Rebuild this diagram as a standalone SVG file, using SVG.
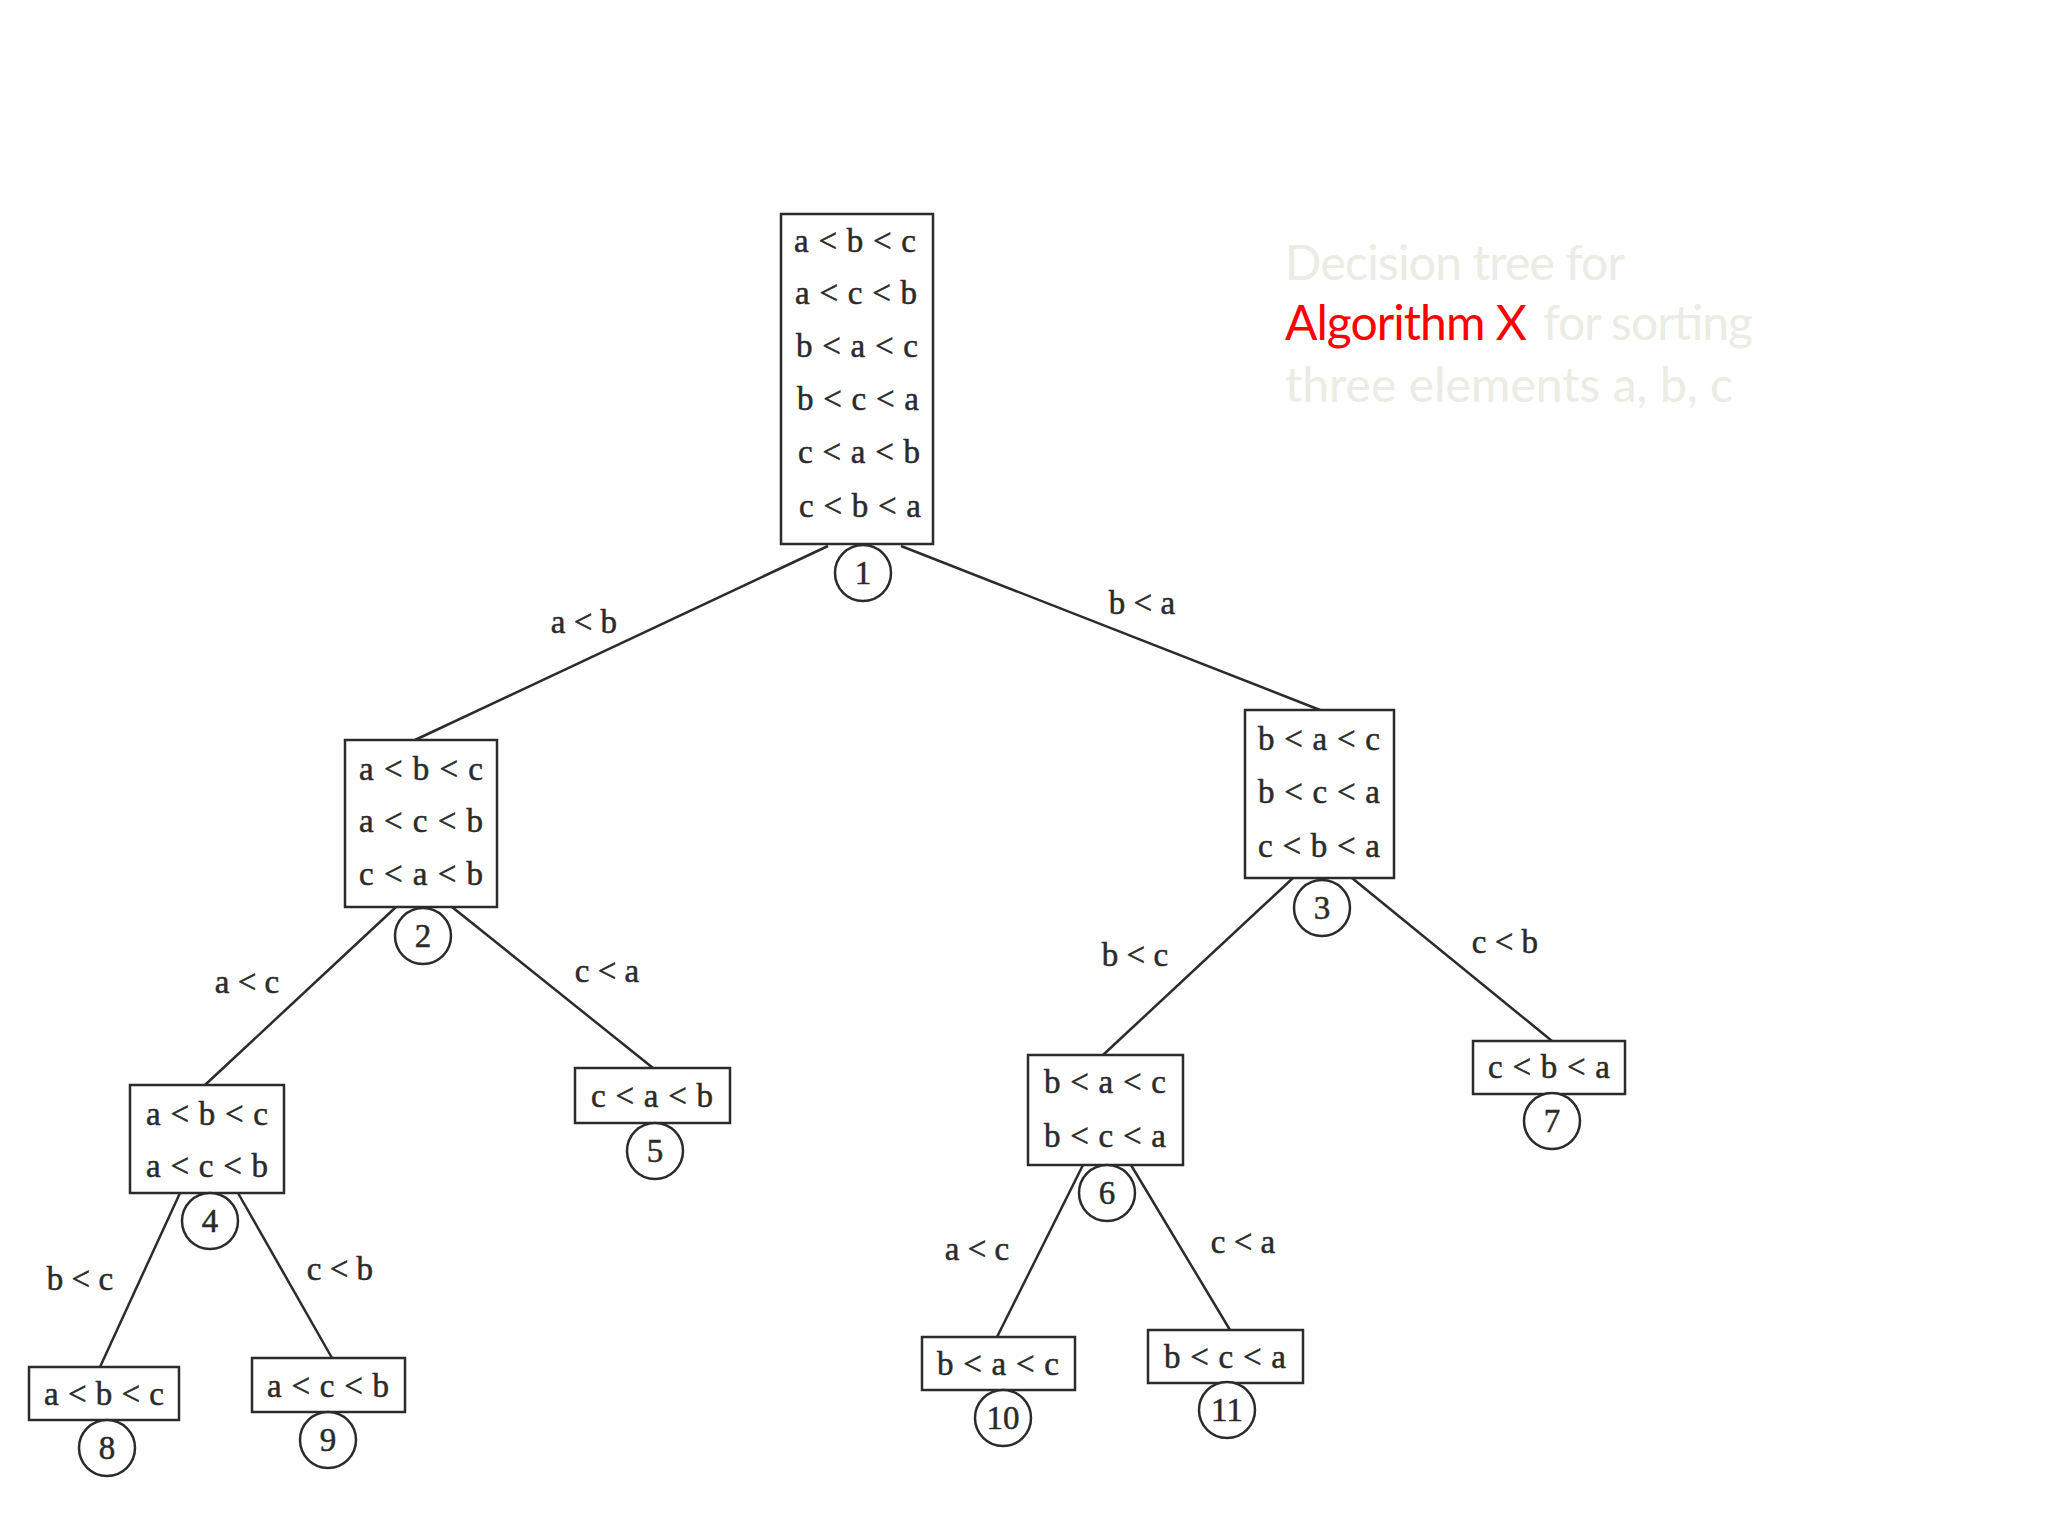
<svg xmlns="http://www.w3.org/2000/svg" width="2048" height="1536" viewBox="0 0 2048 1536">
<style>
.box{fill:#fff;stroke:#2b2b2b;stroke-width:2.5}
.num{fill:#fff;stroke:#2b2b2b;stroke-width:2.5}
.t{font-family:"Liberation Serif","Times New Roman",serif;font-size:33px;fill:#2a2a2a;stroke:#2a2a2a;stroke-width:0.5;text-anchor:middle}
.e{stroke:#2b2b2b;stroke-width:2.5;fill:none}
.title{font-family:Lato,"Liberation Sans",sans-serif;font-size:48px}
</style>
<rect width="2048" height="1536" fill="#fff"/>
<g id="connectors">
<line class="e" x1="828" y1="546" x2="415" y2="740"/>
<line class="e" x1="901" y1="546" x2="1320" y2="710"/>
<line class="e" x1="396" y1="907" x2="205" y2="1085"/>
<line class="e" x1="452" y1="907" x2="653" y2="1068"/>
<line class="e" x1="1293" y1="878" x2="1103" y2="1055"/>
<line class="e" x1="1352" y1="878" x2="1552" y2="1041"/>
<line class="e" x1="180" y1="1193" x2="100" y2="1367"/>
<line class="e" x1="238" y1="1193" x2="332" y2="1358"/>
<line class="e" x1="1083" y1="1165" x2="997" y2="1337"/>
<line class="e" x1="1131" y1="1165" x2="1230" y2="1330"/>
<text class="t" x="584" y="633">a &lt; b</text>
<text class="t" x="1142" y="614">b &lt; a</text>
<text class="t" x="247" y="993">a &lt; c</text>
<text class="t" x="607" y="982">c &lt; a</text>
<text class="t" x="1135" y="966">b &lt; c</text>
<text class="t" x="1505" y="953">c &lt; b</text>
<text class="t" x="80" y="1290">b &lt; c</text>
<text class="t" x="340" y="1280">c &lt; b</text>
<text class="t" x="977" y="1260">a &lt; c</text>
<text class="t" x="1243" y="1253">c &lt; a</text>
</g>
<g id="n1">
<rect class="box" x="781" y="214" width="152" height="330"/>
<text class="t" x="855" y="252" textLength="122">a &lt; b &lt; c</text>
<text class="t" x="856" y="304" textLength="122">a &lt; c &lt; b</text>
<text class="t" x="857" y="357" textLength="122">b &lt; a &lt; c</text>
<text class="t" x="858" y="410" textLength="122">b &lt; c &lt; a</text>
<text class="t" x="859" y="463" textLength="122">c &lt; a &lt; b</text>
<text class="t" x="860" y="517" textLength="122">c &lt; b &lt; a</text>
<circle class="num" cx="863" cy="573" r="28"/>
<text class="t" x="863" y="584">1</text>
</g>
<g id="n2">
<rect class="box" x="345" y="740" width="152" height="167"/>
<text class="t" x="421" y="780" textLength="124">a &lt; b &lt; c</text>
<text class="t" x="421" y="832" textLength="124">a &lt; c &lt; b</text>
<text class="t" x="421" y="885" textLength="124">c &lt; a &lt; b</text>
<circle class="num" cx="423" cy="936" r="28"/>
<text class="t" x="423" y="947">2</text>
</g>
<g id="n3">
<rect class="box" x="1245" y="710" width="149" height="168"/>
<text class="t" x="1319" y="750" textLength="122">b &lt; a &lt; c</text>
<text class="t" x="1319" y="803" textLength="122">b &lt; c &lt; a</text>
<text class="t" x="1319" y="857" textLength="122">c &lt; b &lt; a</text>
<circle class="num" cx="1322" cy="908" r="28"/>
<text class="t" x="1322" y="919">3</text>
</g>
<g id="n4">
<rect class="box" x="130" y="1085" width="154" height="108"/>
<text class="t" x="207" y="1125" textLength="122">a &lt; b &lt; c</text>
<text class="t" x="207" y="1177" textLength="122">a &lt; c &lt; b</text>
<circle class="num" cx="210" cy="1221" r="28"/>
<text class="t" x="210" y="1232">4</text>
</g>
<g id="n5">
<rect class="box" x="575" y="1068" width="155" height="55"/>
<text class="t" x="652" y="1107" textLength="122">c &lt; a &lt; b</text>
<circle class="num" cx="655" cy="1151" r="28"/>
<text class="t" x="655" y="1162">5</text>
</g>
<g id="n6">
<rect class="box" x="1028" y="1055" width="155" height="110"/>
<text class="t" x="1105" y="1093" textLength="122">b &lt; a &lt; c</text>
<text class="t" x="1105" y="1147" textLength="122">b &lt; c &lt; a</text>
<circle class="num" cx="1107" cy="1193" r="28"/>
<text class="t" x="1107" y="1204">6</text>
</g>
<g id="n7">
<rect class="box" x="1473" y="1041" width="152" height="53"/>
<text class="t" x="1549" y="1078" textLength="122">c &lt; b &lt; a</text>
<circle class="num" cx="1552" cy="1121" r="28"/>
<text class="t" x="1552" y="1132">7</text>
</g>
<g id="n8">
<rect class="box" x="29" y="1367" width="150" height="53"/>
<text class="t" x="104" y="1405" textLength="120">a &lt; b &lt; c</text>
<circle class="num" cx="107" cy="1448" r="28"/>
<text class="t" x="107" y="1459">8</text>
</g>
<g id="n9">
<rect class="box" x="252" y="1358" width="153" height="54"/>
<text class="t" x="328" y="1397" textLength="122">a &lt; c &lt; b</text>
<circle class="num" cx="328" cy="1440" r="28"/>
<text class="t" x="328" y="1451">9</text>
</g>
<g id="n10">
<rect class="box" x="922" y="1337" width="153" height="53"/>
<text class="t" x="998" y="1375" textLength="122">b &lt; a &lt; c</text>
<circle class="num" cx="1003" cy="1418" r="28"/>
<text class="t" x="1003" y="1429">10</text>
</g>
<g id="n11">
<rect class="box" x="1148" y="1330" width="155" height="53"/>
<text class="t" x="1225" y="1368" textLength="122">b &lt; c &lt; a</text>
<circle class="num" cx="1227" cy="1410" r="28"/>
<text class="t" x="1227" y="1421">11</text>
</g>
<g id="caption">
<text class="title" x="1285" y="280" fill="#ebece4" textLength="340">Decision tree for</text>
<text class="title" x="1285" y="340" fill="#ff0000" textLength="242">Algorithm X</text>
<text class="title" x="1543" y="340" fill="#ebece4" textLength="210">for sorting</text>
<text class="title" x="1285" y="402" fill="#ebece4" textLength="448">three elements a, b, c</text>
</g>
</svg>
